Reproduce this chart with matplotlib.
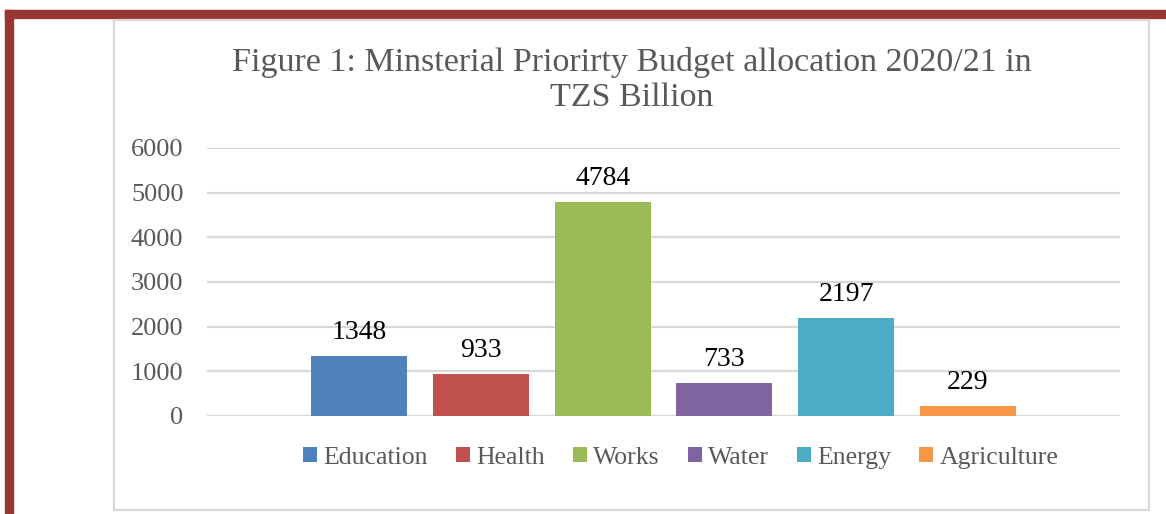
import matplotlib
matplotlib.use("Agg")
from matplotlib import pyplot as plt
from matplotlib.patches import Rectangle

ministries = ["Education", "Health", "Works", "Water", "Energy", "Agriculture"]
budget = [1348, 933, 4784, 733, 2197, 229]
colors = ["#4F81BD", "#C0504D", "#9BBB59", "#8064A2", "#4BACC6", "#F79646"]
yticks = [0, 1000, 2000, 3000, 4000, 5000, 6000]
title = "Figure 1: Minsterial Priorirty Budget allocation 2020/21 in\nTZS Billion"

plt.rcParams["font.family"] = ["Liberation Serif", "DejaVu Serif"]
W, H = 1166, 514
fig = plt.figure(figsize=(W / 100, H / 100), dpi=100)

# page border (dark red, top and left only)
fig.patches.append(Rectangle((5 / W, 0), 8 / W, 1 - 10 / H, transform=fig.transFigure,
                             color="#983633", zorder=0))
fig.patches.append(Rectangle((5 / W, 1 - 18 / H), 1, 8 / H, transform=fig.transFigure,
                             color="#983633", zorder=0))
# chart frame
fig.patches.append(Rectangle((114 / W, 4 / H), 1035 / W, 490 / H, transform=fig.transFigure,
                             fill=False, edgecolor="#D9D9D9", linewidth=1.6, zorder=0))

ax = fig.add_axes([207 / W, 98 / H, 913 / W, 268 / H])
x = list(range(len(ministries)))
bars = ax.bar(x, budget, width=0.79, color=colors, label=ministries, zorder=3)
ax.bar_label(bars, labels=[str(v) for v in budget], padding=8, fontsize=20, color="black")

ax.set_xlim(-1.25, 6.25)
ax.set_ylim(0, 6000)
ax.set_yticks(yticks)
ax.set_xticks([])
ax.tick_params(axis="y", length=0, pad=17, labelsize=19, labelcolor="#595959")
ax.yaxis.grid(True, color="#D9D9D9", linewidth=1.6, zorder=0)
for s in ["top", "right", "left", "bottom"]:
    ax.spines[s].set_visible(False)
ax.axhline(0, color="#D9D9D9", linewidth=1.6, zorder=1)

fig.text(632 / W, 1 - 80 / H, title, ha="center", va="center", fontsize=24.5,
         color="#595959", linespacing=1.15)

ax.legend(loc="center", bbox_to_anchor=(0.519, -0.155), ncol=6, frameon=False,
          fontsize=18.5, labelcolor="#595959", handlelength=0.55, handleheight=0.55,
          handletextpad=0.25, columnspacing=1.08)

fig.savefig("out.png", dpi=100)
